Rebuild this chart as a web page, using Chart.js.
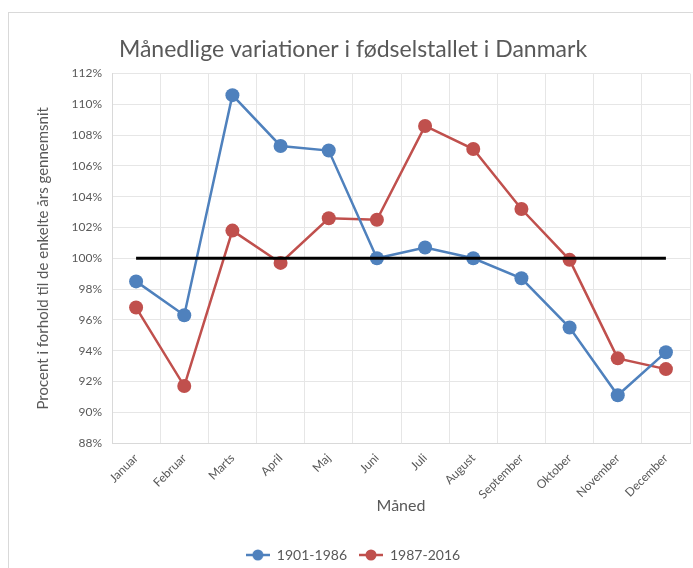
<!DOCTYPE html>
<html>
<head>
<meta charset="utf-8">
<script src="https://cdn.jsdelivr.net/npm/chart.js@4"></script>
<style>
  html, body { margin: 0; padding: 0; background: #fff; }
  #frame { position: absolute; left: 8px; top: 12px; width: 720px; height: 600px; border: 1px solid #d9d9d9; }
  #wrap { position: absolute; left: 0; top: 0; width: 693px; height: 568px; }
</style>
</head>
<body>
<div id="frame"></div>
<div id="wrap"><canvas id="chart"></canvas></div>
<script>
const months = ['Januar', 'Februar', 'Marts', 'April', 'Maj', 'Juni', 'Juli', 'August', 'September', 'Oktober', 'November', 'December'];
const early = [98.5, 96.3, 110.6, 107.3, 107.0, 100.0, 100.7, 100.0, 98.7, 95.5, 91.1, 93.9];
const late = [96.8, 91.7, 101.8, 99.7, 102.6, 102.5, 108.6, 107.1, 103.2, 99.9, 93.5, 92.8];
const baseline = [100, 100, 100, 100, 100, 100, 100, 100, 100, 100, 100, 100];

const BLUE = '#4f81bd';
const RED = '#c0504d';
const TEXT = '#595959';
const FONT = 'Lato, "Open Sans", sans-serif';

// little line-with-dot marker for the legend
const legendMarker = (color) => {
  const c = document.createElement('canvas');
  c.width = 24; c.height = 12;
  const ctx = c.getContext('2d');
  ctx.strokeStyle = color;
  ctx.lineWidth = 2.5;
  ctx.beginPath();
  ctx.moveTo(0, 6);
  ctx.lineTo(24, 6);
  ctx.stroke();
  ctx.fillStyle = color;
  ctx.beginPath();
  ctx.arc(12, 6, 5.5, 0, Math.PI * 2);
  ctx.fill();
  return c;
};

const markers = [legendMarker(BLUE), legendMarker(RED)];

new Chart(document.getElementById('chart'), {
  type: 'line',
  data: {
    labels: months,
    datasets: [
      {
        label: '1901-1986',
        data: early,
        borderColor: BLUE,
        backgroundColor: BLUE,
        borderWidth: 2.5,
        pointRadius: 7,
        pointHoverRadius: 7,
        pointBorderWidth: 0,
        tension: 0
      },
      {
        label: '1987-2016',
        data: late,
        borderColor: RED,
        backgroundColor: RED,
        borderWidth: 2.5,
        pointRadius: 7,
        pointHoverRadius: 7,
        pointBorderWidth: 0,
        tension: 0
      },
      {
        label: 'Gennemsnit',
        data: baseline,
        borderColor: '#000',
        borderWidth: 3,
        pointRadius: 0,
        order: -1
      }
    ]
  },
  options: {
    responsive: true,
    maintainAspectRatio: false,
    animation: false,
    layout: { autoPadding: false, padding: { left: 16, right: 3, top: 26, bottom: -4 } },
    plugins: {
      title: {
        display: true,
        text: 'Månedlige variationer i fødselstallet i Danmark',
        color: TEXT,
        font: { family: FONT, size: 23, weight: 'normal' },
        padding: { top: 10, bottom: 10 }
      },
      legend: {
        position: 'bottom',
        labels: {
          color: TEXT,
          font: { family: FONT, size: 14 },
          usePointStyle: true,
          pointStyleWidth: 24,
          padding: 12,
          filter: (item) => item.datasetIndex < 2,
          generateLabels: (chart) => Chart.defaults.plugins.legend.labels.generateLabels(chart).map((item) => {
            if (item.datasetIndex < 2) item.pointStyle = markers[item.datasetIndex];
            return item;
          })
        }
      },
      tooltip: { enabled: false }
    },
    scales: {
      x: {
        offset: true,
        grid: { offset: true, color: '#e6e6e6', drawTicks: false },
        border: { color: '#d9d9d9' },
        ticks: {
          color: TEXT,
          font: { family: FONT, size: 12 },
          maxRotation: 45,
          minRotation: 45,
          padding: 8
        },
        title: {
          display: true,
          text: 'Måned',
          color: TEXT,
          font: { family: FONT, size: 16 },
          padding: { top: 0, bottom: 21 }
        },
        afterFit: (s) => { s.height = 93; s.paddingRight = 0; }
      },
      y: {
        min: 88,
        max: 112,
        grid: { color: '#e6e6e6', drawTicks: false },
        border: { color: '#d9d9d9' },
        ticks: {
          stepSize: 2,
          color: TEXT,
          font: { family: FONT, size: 12 },
          padding: 10,
          callback: (v) => v + '%'
        },
        title: {
          display: true,
          text: 'Procent i forhold til de enkelte års gennemsnit',
          color: TEXT,
          font: { family: FONT, size: 15 },
          padding: { top: 18, bottom: 4 }
        },
        afterFit: (s) => { s.width = 96; }
      }
    }
  }
});
</script>
</body>
</html>
